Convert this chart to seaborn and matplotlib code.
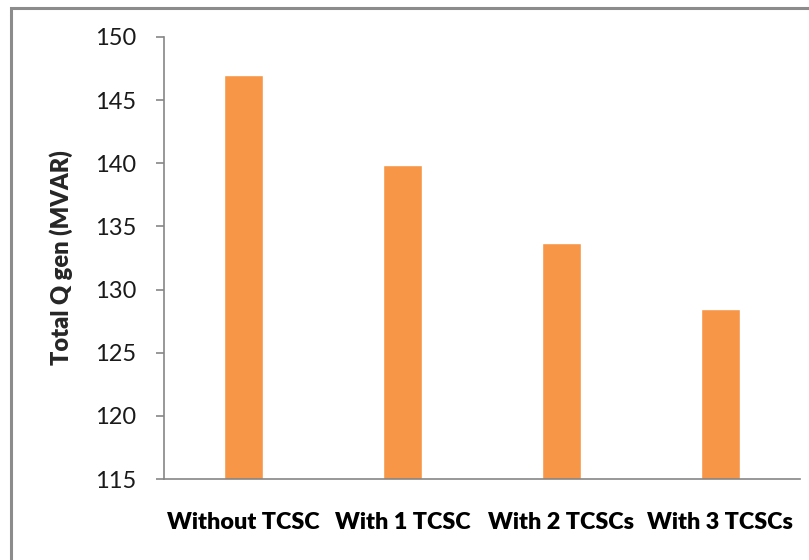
import matplotlib
matplotlib.use("Agg")
import matplotlib.pyplot as plt
import seaborn as sns
import pandas as pd
from matplotlib.patches import Rectangle

categories = ["Without TCSC", "With 1 TCSC", "With 2 TCSCs", "With 3 TCSCs"]
q_gen = [147.0, 139.9, 133.7, 128.5]
y_ticks = [115, 120, 125, 130, 135, 140, 145, 150]

df = pd.DataFrame({"case": categories, "q": q_gen})

sns.set_theme(style="white")
plt.rcParams["font.family"] = ["Lato", "DejaVu Sans"]

fig = plt.figure(figsize=(8.09, 5.6), dpi=100)
ax = fig.add_axes([0.2027, 0.1446, 0.786, 0.7894])

sns.barplot(data=df, x="case", y="q", color="#F79646", saturation=1,
            width=0.25, ax=ax)

ax.set_ylim(115, 150)
ax.set_xlim(-0.5, 3.5)
ax.set_yticks(y_ticks)
ax.set_yticklabels([str(v) for v in y_ticks], fontsize=17, color="#1a1a1a")
ax.set_xticks(range(len(categories)))
ax.set_xticklabels(categories, fontsize=16.8, fontweight="heavy", color="black")
ax.tick_params(axis="x", length=0, pad=24)
ax.tick_params(axis="y", length=6, width=1.2, color="#868686", pad=14, left=True)
ax.set_xlabel("")
ax.set_ylabel("Total Q gen (MVAR)", fontsize=17, fontweight="heavy", labelpad=16)

for side in ("top", "right"):
    ax.spines[side].set_visible(False)
for side in ("left", "bottom"):
    ax.spines[side].set_color("#868686")
    ax.spines[side].set_linewidth(1.2)

# outer chart frame (only top and left edges fall inside the canvas)
fig.add_artist(Rectangle((11 / 809, -0.1), 1.1, 1.1 - 8 / 560,
                         transform=fig.transFigure, fill=False,
                         edgecolor="#8c8c8c", linewidth=2.2))

fig.savefig("out.png", dpi=100)
